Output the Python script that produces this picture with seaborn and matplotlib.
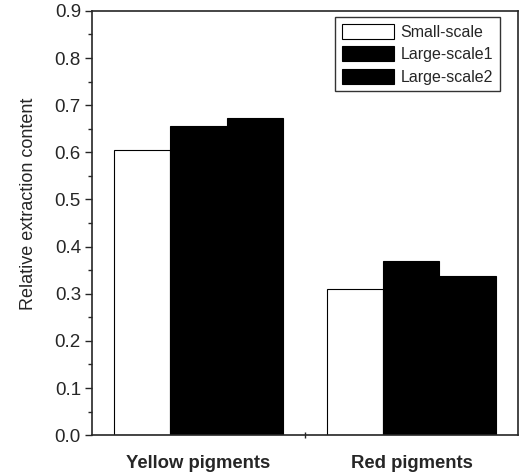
import matplotlib
matplotlib.use("Agg")
import matplotlib.pyplot as plt
import seaborn as sns
import pandas as pd
from matplotlib.ticker import MultipleLocator, FixedLocator

categories = ["Yellow pigments", "Red pigments"]
series = ["Small-scale", "Large-scale1", "Large-scale2"]
small_scale = [0.605, 0.310]
large_scale1 = [0.656, 0.369]
large_scale2 = [0.673, 0.337]

rows = []
for name, vals in zip(series, [small_scale, large_scale1, large_scale2]):
    for c, v in zip(categories, vals):
        rows.append({"Category": c, "Series": name, "Value": v})
df = pd.DataFrame(rows)

sns.set_style("ticks")
plt.rcParams["font.family"] = ["Liberation Sans", "DejaVu Sans"]

fig = plt.figure(figsize=(5.2, 4.73), dpi=100)
ax = fig.add_axes([0.177, 0.080, 0.819, 0.897])

palette = {"Small-scale": "white", "Large-scale1": "black", "Large-scale2": "black"}
sns.barplot(data=df, x="Category", y="Value", hue="Series", order=categories,
            hue_order=series, palette=palette, width=0.79, edgecolor="black",
            linewidth=0.8, saturation=1, ax=ax, errorbar=None)

ax.set_xlim(-0.5, 1.5)
ax.set_ylim(0, 0.9)
ax.yaxis.set_major_locator(MultipleLocator(0.1))
ax.yaxis.set_minor_locator(MultipleLocator(0.05))
ax.xaxis.set_minor_locator(FixedLocator([0.5]))
ax.tick_params(axis="x", which="major", length=0, pad=14, labelsize=13.3)
ax.tick_params(axis="x", which="minor", length=5, width=1.0, direction="inout")
ax.tick_params(axis="y", which="major", length=5, width=1.0, labelsize=13.5, pad=3)
ax.tick_params(axis="y", which="minor", length=3, width=1.0)
for lab in ax.get_xticklabels():
    lab.set_fontweight("bold")
ax.set_yticklabels([f"{v:.1f}" for v in ax.get_yticks()])
ax.set_xlabel("")
ax.set_ylabel("Relative extraction content", fontsize=13)
ax.yaxis.set_label_coords(-0.13, 0.545)
for s in ax.spines.values():
    s.set_linewidth(1.2)
    s.set_visible(True)

leg = ax.legend(loc="upper right", bbox_to_anchor=(0.957, 0.985), fontsize=11.5,
                frameon=True, fancybox=False, edgecolor="black",
                handlelength=3.3, handleheight=1.1, borderpad=0.4,
                labelspacing=0.4, handletextpad=0.4, borderaxespad=0)
leg.get_frame().set_linewidth(1.0)

fig.savefig("out.png", dpi=100)
